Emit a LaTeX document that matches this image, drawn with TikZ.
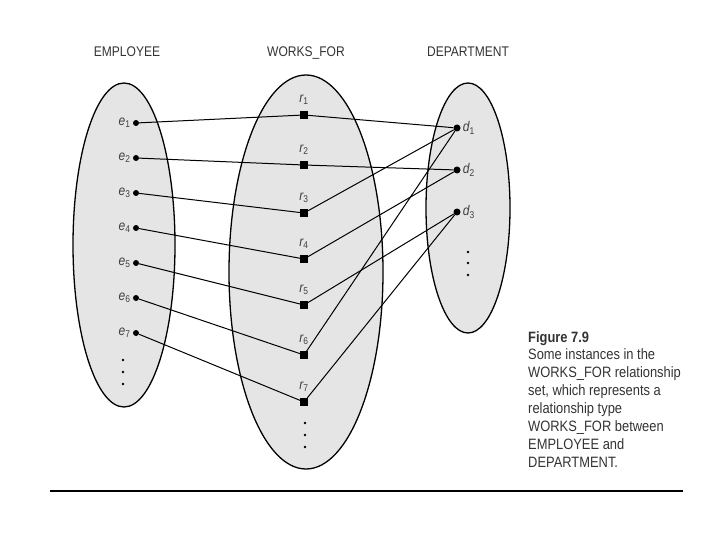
\documentclass[tikz,border=0pt]{standalone}
\usepackage{fontspec}
\setmainfont[FakeStretch=0.86]{Liberation Sans}
\begin{document}
\begin{tikzpicture}[x=1pt,y=-1pt,
  set/.style={draw,fill=black!10,line width=1.3pt},
  ent/.style={circle,fill,inner sep=0pt,minimum size=6pt},
  rel/.style={rectangle,fill,inner sep=0pt,minimum size=7.5pt},
  lbl/.style={font=\fontsize{14}{14}\selectfont\itshape,text=black!75,inner sep=2pt},
  title/.style={font=\fontsize{14}{14}\selectfont,text=black!80,anchor=base}]
  \useasboundingbox (0,0) rectangle (720,540);
  \draw[set] (124,245) ellipse (51 and 162);
  \draw[set] (306,272) ellipse (77 and 197);
  \draw[set] (468,208) ellipse (42 and 125);
  \node[title] (temp) at (127,57) {EMPLOYEE};
  \node[title] (twf) at (306,57) {WORKS\_FOR};
  \node[title] (tdep) at (468,57) {DEPARTMENT};
  \foreach \i/\y in {1/123,2/158,3/193,4/228,5/263,6/298,7/333} {
    \node[ent] (e\i) at (136,\y) {};
    \node[lbl,left] (le\i) at (e\i.west) {e\textsubscript{\upshape\i}};
  }
  \foreach \i/\y in {1/115,2/165,3/213,4/259,5/305,6/355,7/402} {
    \node[rel] (r\i) at (304,\y) {};
    \node[lbl,above=4pt] (lr\i) at (r\i.north) {r\textsubscript{\upshape\i}};
  }
  \foreach \i/\y in {1/128,2/170,3/212} {
    \node[ent,minimum size=7pt] (d\i) at (457,\y) {};
    \node[lbl,right] (ld\i) at (d\i.east) {d\textsubscript{\upshape\i}};
  }
  \foreach \i/\j in {1/1,2/2,3/1,4/2,5/3,6/1,7/3}
    \draw[line width=1pt] (e\i) -- (r\i) -- (d\j);
  \foreach \y in {360,372,384} \fill (123,\y) circle (1.3);
  \foreach \y in {423,435,447} \fill (305,\y) circle (1.3);
  \foreach \y in {252,263,275} \fill (468,\y) circle (1.3);
  \node[anchor=north west,inner sep=0pt,align=left,text=black!80,
    font=\fontsize{15}{17.9}\selectfont] (cap) at (528,331)
    {\textbf{Figure 7.9}\\Some instances in the\\WORKS\_FOR relationship\\set, which represents a\\relationship type\\WORKS\_FOR between\\EMPLOYEE and\\DEPARTMENT.};
  \draw[line width=2pt] (50,491) -- (683,491);
\end{tikzpicture}
\end{document}
